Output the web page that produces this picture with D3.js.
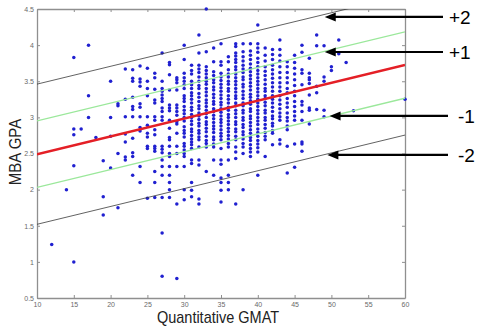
<!DOCTYPE html>
<html>
<head>
<meta charset="utf-8">
<script src="https://cdn.jsdelivr.net/npm/d3@7"></script>
<style>
  html, body { margin: 0; padding: 0; background: #fff; }
  svg { display: block; font-family: "Liberation Sans", Arial, sans-serif; }
  .tick text { fill: #6a6a6a; font-size: 7px; }
</style>
</head>
<body>
<div id="chart"></div>
<script>
// GMAT score columns and the GPAs for each column
const gmatScores = [12, 14, 15, 16, 17, 18, 19, 20, 21, 22, 23, 24, 25, 26, 27, 28, 29, 30,
  31, 32, 33, 34, 35, 36, 37, 38, 39, 40, 41, 42, 43, 44, 45, 46, 47, 48, 49, 50, 51, 52, 53, 60];
const gpaColumns = [
  [1.24],
  [2.0],
  [1.0, 2.33, 2.76, 2.84, 3.83],
  [2.84],
  [3.0, 3.3, 4.0],
  [2.72],
  [1.65, 1.9, 2.4],
  [2.3, 2.74, 3.0, 3.5],
  [1.75, 2.5, 3.16, 3.19],
  [2.41, 2.45, 2.66, 2.77, 3.01, 3.25, 3.67],
  [2.2, 2.46, 2.51, 2.71, 3.01, 3.11, 3.15, 3.28, 3.5, 3.54, 3.66],
  [2.1, 2.32, 2.81, 2.86, 3.01, 3.14, 3.19, 3.43, 3.49, 3.53, 3.71],
  [1.88, 2.57, 2.6, 2.73, 2.78, 2.89, 3.01, 3.3, 3.4, 3.5, 3.68],
  [1.89, 2.1, 2.25, 2.53, 2.57, 2.6, 2.76, 2.83, 2.96, 3.01, 3.2, 3.24, 3.39, 3.55, 3.61],
  [0.8, 1.4, 1.89, 2.2, 2.32, 2.41, 2.51, 2.56, 2.6, 2.96, 3.01, 3.08, 3.13, 3.22, 3.26, 3.31, 3.36, 3.4, 3.5, 3.89],
  [1.89, 2.0, 2.1, 2.2, 2.32, 2.46, 2.5, 2.6, 2.69, 2.72, 2.85, 2.96, 3.09, 3.13, 3.17, 3.38, 3.59, 3.73, 3.76],
  [0.77, 1.8, 2.32, 2.5, 2.6, 2.78, 2.91, 2.94, 3.03, 3.08, 3.13, 3.17, 3.38, 3.48, 3.52, 3.55],
  [1.86, 2.0, 2.32, 2.46, 2.5, 2.55, 2.6, 2.64, 2.73, 2.78, 2.82, 2.87, 2.95, 3.0, 3.05, 3.1, 3.15, 3.22, 3.26, 3.3, 3.4, 3.45, 3.5, 3.55, 3.61, 3.8, 4.0],
  [1.9, 1.99, 2.1, 2.36, 2.41, 2.57, 2.62, 2.66, 2.7, 2.75, 2.8, 2.84, 2.9, 2.95, 3.0, 3.04, 3.1, 3.14, 3.2, 3.25, 3.3, 3.34, 3.4, 3.45, 3.5, 3.6, 3.65, 3.72],
  [1.8, 1.87, 2.34, 2.41, 2.59, 2.69, 2.73, 2.78, 2.82, 2.88, 2.92, 2.97, 3.02, 3.06, 3.12, 3.16, 3.22, 3.28, 3.33, 3.4, 3.44, 3.5, 3.56, 3.62, 3.67, 3.72, 3.89, 4.14],
  [2.25, 2.59, 2.64, 2.68, 2.74, 2.8, 2.85, 2.9, 2.94, 3.0, 3.05, 3.1, 3.15, 3.2, 3.24, 3.3, 3.35, 3.4, 3.46, 3.5, 3.55, 3.6, 3.65, 3.7, 3.91, 4.5],
  [2.2, 2.41, 2.59, 2.63, 2.69, 2.73, 2.79, 2.84, 2.88, 2.93, 2.98, 3.03, 3.08, 3.12, 3.18, 3.22, 3.27, 3.32, 3.38, 3.42, 3.48, 3.52, 3.58, 3.63, 3.77, 3.96],
  [1.83, 1.99, 2.1, 2.16, 2.35, 2.41, 2.57, 2.69, 2.74, 2.78, 2.83, 2.88, 2.93, 2.97, 3.02, 3.07, 3.12, 3.17, 3.21, 3.26, 3.31, 3.36, 3.41, 3.46, 3.51, 3.56, 3.61, 3.72, 3.77, 4.02],
  [2.0, 2.1, 2.2, 2.41, 2.59, 2.64, 2.7, 2.75, 2.8, 2.85, 2.9, 2.95, 3.0, 3.04, 3.1, 3.14, 3.2, 3.25, 3.3, 3.36, 3.4, 3.46, 3.5, 3.56, 3.6, 3.66, 3.77, 3.84],
  [1.8, 2.43, 2.52, 2.59, 2.69, 2.74, 2.8, 2.84, 2.9, 2.94, 3.0, 3.05, 3.1, 3.16, 3.2, 3.26, 3.3, 3.35, 3.4, 3.45, 3.5, 3.55, 3.6, 3.66, 3.7, 3.76, 3.8, 3.85, 3.89, 3.98, 4.02],
  [2.0, 2.5, 2.59, 2.64, 2.7, 2.76, 2.8, 2.86, 2.9, 2.96, 3.0, 3.06, 3.1, 3.16, 3.2, 3.26, 3.31, 3.36, 3.42, 3.46, 3.52, 3.56, 3.62, 3.67, 3.72, 3.78, 3.84, 3.91, 4.02],
  [2.46, 2.52, 2.57, 2.62, 2.68, 2.72, 2.78, 2.83, 2.88, 2.93, 2.98, 3.02, 3.08, 3.12, 3.18, 3.23, 3.28, 3.32, 3.38, 3.43, 3.48, 3.53, 3.58, 3.63, 3.68, 3.74, 3.8, 3.86, 3.92, 4.02],
  [2.2, 2.52, 2.58, 2.63, 2.68, 2.74, 2.79, 2.84, 2.9, 2.95, 3.0, 3.05, 3.1, 3.15, 3.2, 3.25, 3.3, 3.35, 3.4, 3.45, 3.5, 3.55, 3.6, 3.65, 3.7, 3.76, 3.82, 3.9, 3.96, 4.02, 4.28],
  [2.46, 2.69, 2.74, 2.79, 2.85, 2.9, 2.96, 3.0, 3.06, 3.1, 3.16, 3.21, 3.26, 3.3, 3.36, 3.4, 3.46, 3.52, 3.58, 3.64, 3.7, 3.78, 3.86, 3.96],
  [2.62, 2.78, 2.82, 2.88, 2.92, 2.98, 3.02, 3.08, 3.14, 3.2, 3.25, 3.3, 3.36, 3.42, 3.48, 3.54, 3.6, 3.66, 3.72, 3.8, 3.87, 3.94],
  [2.63, 2.69, 2.96, 3.01, 3.06, 3.12, 3.18, 3.24, 3.3, 3.36, 3.42, 3.48, 3.55, 3.62, 3.7, 3.78, 3.86, 3.94, 4.07],
  [2.23, 2.6, 2.83, 2.88, 2.95, 3.0, 3.06, 3.14, 3.2, 3.26, 3.34, 3.4, 3.48, 3.55, 3.62, 3.7, 3.77],
  [2.31, 2.63, 2.96, 3.02, 3.08, 3.15, 3.22, 3.3, 3.36, 3.44, 3.52, 3.6, 3.68, 3.76, 3.86],
  [2.53, 2.63, 2.66, 2.96, 3.08, 3.17, 3.22, 3.45, 3.61, 3.66, 3.9, 4.0],
  [2.91, 3.1, 3.13, 3.31, 3.47, 3.52, 3.55, 3.61, 3.82],
  [3.11, 3.34, 3.43, 3.99, 4.14],
  [3.01, 3.1, 3.5, 3.56, 3.99],
  [3.65, 3.7],
  [3.88, 4.07],
  [3.76],
  [3.09],
  [3.25]
];

// fitted line and the +/- bands drawn around it
const fitIntercept = 2.49;   // GPA at GMAT = 10
const fitSlope = 0.0247;
const bandOffsets = [0.97, 0.46, 0, -0.46, -0.97];
const bandColors = ["#3a3a3a", "#9be89b", "#e41f26", "#9be89b", "#3a3a3a"];
const bandWidths = [0.8, 1.3, 2.4, 1.3, 0.8];

// annotation arrows: label, GPA level of the arrow, GMAT at the arrow tip
const arrowLabels = ["+2", "+1", "-1", "-2"];
const arrowGpa = [4.39, 3.905, 3.02, 2.48];
const arrowTipGmat = [49.1, 49.1, 49.75, 49.45];

const xTicks = [10, 15, 20, 25, 30, 35, 40, 45, 50, 55, 60];
const yTicks = [0.5, 1, 1.5, 2, 2.5, 3, 3.5, 4, 4.5];

const width = 477, height = 328;
const margin = {top: 9, right: 72, bottom: 30, left: 37};

const svg = d3.select("#chart").append("svg")
  .attr("width", width)
  .attr("height", height);

const x = d3.scaleLinear().domain([10, 60]).range([margin.left, width - margin.right]);
const y = d3.scaleLinear().domain([0.5, 4.5]).range([height - margin.bottom, margin.top]);

const fit = (g) => fitIntercept + fitSlope * (g - 10);

svg.append("clipPath").attr("id", "plotClip")
  .append("rect")
  .attr("x", x(10)).attr("y", y(4.5))
  .attr("width", x(60) - x(10)).attr("height", y(0.5) - y(4.5));

// axes: ticks point inward on all four sides
const tickFmt = d3.format("");
const axisStyle = (g) => {
  g.select(".domain").attr("stroke", "#8f8f8f").attr("stroke-width", 1.3);
  g.selectAll(".tick line").attr("stroke", "#8f8f8f");
};
svg.append("g")
  .attr("transform", `translate(0,${y(0.5)})`)
  .call(d3.axisBottom(x).tickValues(xTicks).tickFormat(tickFmt).tickSize(-3).tickPadding(4).tickSizeOuter(0))
  .call(axisStyle);
svg.append("g")
  .attr("transform", `translate(0,${y(4.5)})`)
  .call(d3.axisTop(x).tickValues(xTicks).tickFormat("").tickSize(-3).tickSizeOuter(0))
  .call(axisStyle);
svg.append("g")
  .attr("transform", `translate(${x(10)},0)`)
  .call(d3.axisLeft(y).tickValues(yTicks).tickFormat(tickFmt).tickSize(-3).tickPadding(3).tickSizeOuter(0))
  .call(axisStyle);
svg.append("g")
  .attr("transform", `translate(${x(60)},0)`)
  .call(d3.axisRight(y).tickValues(yTicks).tickFormat("").tickSize(-3).tickSizeOuter(0))
  .call(axisStyle);

// scatter points
const points = gmatScores.flatMap((s, i) => gpaColumns[i].map((g) => ({gmat: s, gpa: g})));
svg.append("g")
  .selectAll("circle")
  .data(points).enter()
  .append("circle")
  .attr("cx", (d) => x(d.gmat))
  .attr("cy", (d) => y(d.gpa))
  .attr("r", 1.75)
  .attr("fill", "#2020d0");

// regression line and bands
svg.append("g")
  .attr("clip-path", "url(#plotClip)")
  .selectAll("line")
  .data(bandOffsets).enter()
  .append("line")
  .attr("x1", x(10)).attr("x2", x(60))
  .attr("y1", (d) => y(fit(10) + d))
  .attr("y2", (d) => y(fit(60) + d))
  .attr("stroke", (d, i) => bandColors[i])
  .attr("stroke-width", (d, i) => bandWidths[i]);

// arrows from the right margin pointing at each band
const arrows = svg.append("g")
  .selectAll("g")
  .data(arrowLabels).enter()
  .append("g")
  .attr("transform", (d, i) => `translate(0,${y(arrowGpa[i])})`);

arrows.append("line")
  .attr("x1", (d, i) => x(arrowTipGmat[i]) + 8)
  .attr("x2", (d, i) => i < 2 ? 443 : 448)
  .attr("stroke", "#000")
  .attr("stroke-width", 2.2);

arrows.append("path")
  .attr("d", (d, i) => { const t = x(arrowTipGmat[i]); return `M${t},0 L${t + 11},-4.5 L${t + 11},4.5 Z`; })
  .attr("fill", "#000");

arrows.append("text")
  .attr("x", (d, i) => i < 2 ? 449 : 458)
  .attr("dy", "0.36em")
  .attr("font-size", 19)
  .attr("fill", "#000")
  .text((d) => d);

// axis titles
svg.append("text")
  .attr("transform", `translate(${(x(10) + x(60)) / 2 - 3},323) scale(1,1.1)`)
  .attr("text-anchor", "middle")
  .attr("font-size", 14.5)
  .attr("fill", "#222")
  .text("Quantitative GMAT");

svg.append("text")
  .attr("transform", `translate(21,152) rotate(-90) scale(1,1.15)`)
  .attr("text-anchor", "middle")
  .attr("font-size", 15)
  .attr("fill", "#222")
  .text("MBA GPA");
</script>
</body>
</html>
